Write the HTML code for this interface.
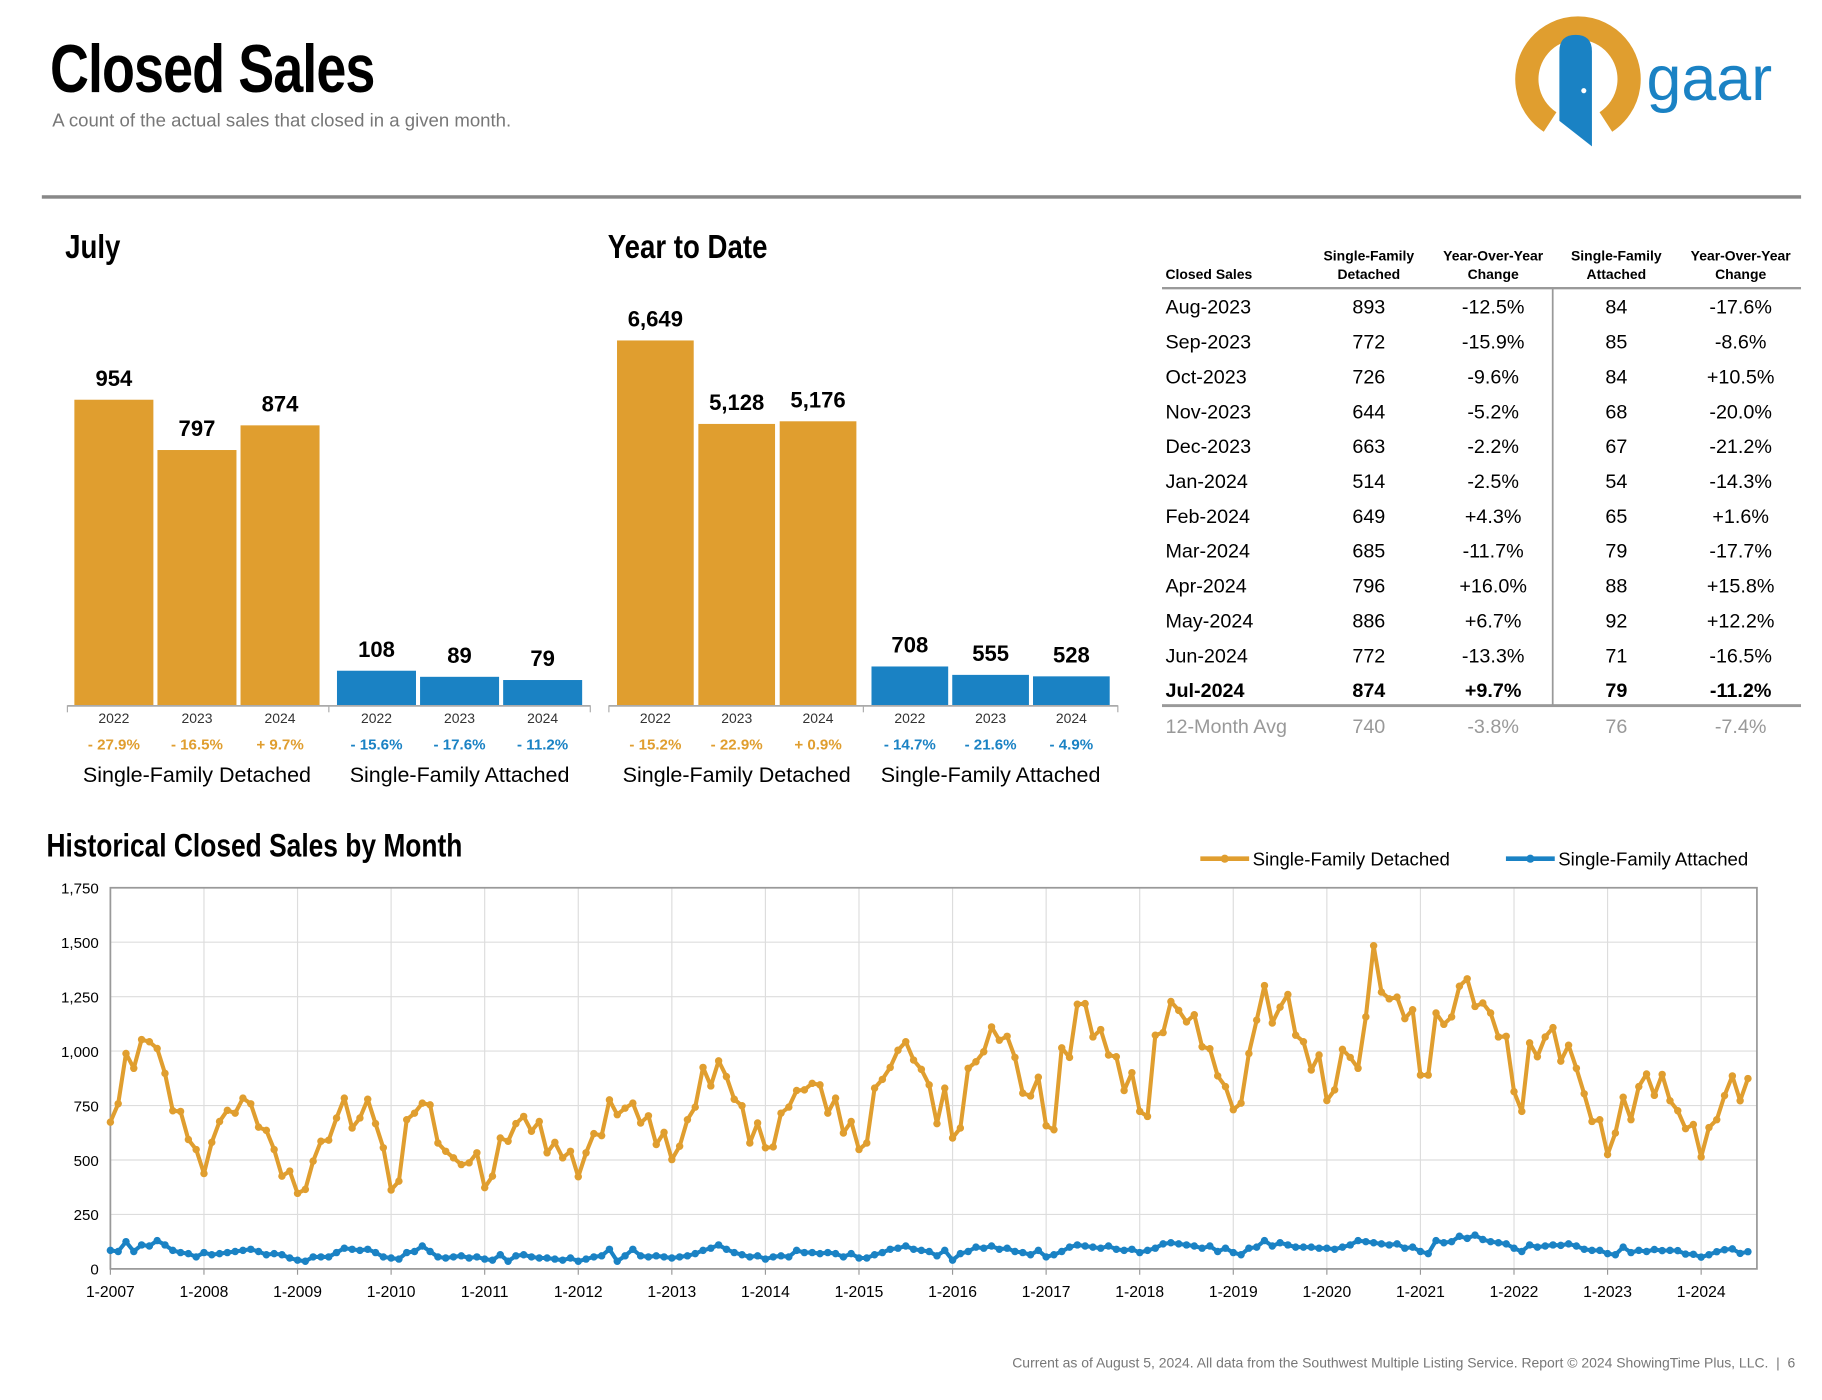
<!DOCTYPE html>
<html><head><meta charset="utf-8"><style>
html,body{margin:0;padding:0;background:#fff;overflow:hidden}
#wrap{position:absolute;left:0;top:0;width:1568px;height:1205px;transform:scale(1.16199);transform-origin:0 0;font-family:"Liberation Sans",sans-serif;color:#000}
.abs{position:absolute}
.cond{font-family:"Liberation Sans Narrow","Liberation Sans",sans-serif;font-weight:bold;transform-origin:0 0;white-space:nowrap}
</style></head><body>
<div id="wrap">
<div class="abs cond" style="left:43px;top:26px;font-size:58px;letter-spacing:-1px;transform:scaleX(0.8)">Closed Sales</div>
<div class="abs" style="left:45px;top:96px;font-size:16px;color:#777">A count of the actual sales that closed in a given month.</div>
<svg class="abs" style="left:1300px;top:10px" width="260" height="125">
<path d="M34 95 A44 44 0 1 1 82 95" fill="none" stroke="#E09E2F" stroke-width="20"/>
<path d="M42 34 Q42 20 56 20 Q70 20 70 34 L70 116 L42 94 Z" fill="#1A82C4"/>
<circle cx="63" cy="68" r="2.2" fill="#fff"/>
<text x="117" y="76" font-size="54" fill="#1A82C4" font-family="Liberation Sans, sans-serif">gaar</text>
</svg>
<div class="abs" style="left:36px;top:168px;width:1514px;height:3px;background:#888"></div>

<div class="abs cond" style="left:56px;top:197px;font-size:29px;transform:scaleX(0.82)">July</div>
<div class="abs cond" style="left:523px;top:197px;font-size:29px;transform:scaleX(0.82)">Year to Date</div>
<svg id="bars" class="abs" style="left:0;top:0" width="980" height="700"></svg>

<div class="abs" style="left:1000px;top:200px;width:550px;height:450px">
<svg width="550" height="450" id="tbl"></svg>
</div>

<div class="abs cond" style="left:40px;top:712px;font-size:28px;transform:scaleX(0.81)">Historical Closed Sales by Month</div>
<svg id="chart" class="abs" style="left:0;top:720px" width="1568" height="420"></svg>

<div class="abs" style="right:23px;top:1166px;font-size:12px;color:#777">Current as of August 5, 2024. All data from the Southwest Multiple Listing Service. Report © 2024 ShowingTime Plus, LLC. &nbsp;|&nbsp; 6</div>
</div>
<script>
const NS='http://www.w3.org/2000/svg';
function mk(p,t,a){const e=document.createElementNS(NS,t);for(const k in a)e.setAttribute(k,a[k]);p.appendChild(e);return e;}
const ORANGE='#E09E2F',BLUE='#1A82C4';
// ---- bar data
const julyYears=['2022','2023','2024'];
const julyDetached=[954,797,874];
const julyAttached=[108,89,79];
const julyDetChg=['- 27.9%','- 16.5%','+ 9.7%'];
const julyAttChg=['- 15.6%','- 17.6%','- 11.2%'];
const ytdDetached=[6649,5128,5176];
const ytdAttached=[708,555,528];
const ytdDetChg=['- 15.2%','- 22.9%','+ 0.9%'];
const ytdAttChg=['- 14.7%','- 21.6%','- 4.9%'];
const bs=document.getElementById('bars');
function group(x0,vals,scale,color,chg,label,name,step,w){
  const base=607;
  vals.forEach((v,i)=>{
    const x=x0+i*step,h=v*scale;
    const r=mk(bs,'rect',{x:x,y:base-h,width:w,height:h,fill:color});
    
    
    const t=mk(bs,'text',{x:x+w/2,y:base-h-12,'text-anchor':'middle','font-size':19,'font-weight':'bold','font-family':'Liberation Sans, sans-serif'});
    t.textContent=v.toLocaleString('en-US');
    
    
    const y=mk(bs,'text',{x:x+w/2,y:622,'text-anchor':'middle','font-size':12,fill:'#333','font-family':'Liberation Sans, sans-serif'});
    y.textContent=julyYears[i];
    
    
    const c=mk(bs,'text',{x:x+w/2,y:645,'text-anchor':'middle','font-size':13,'font-weight':'bold',fill:color,'font-family':'Liberation Sans, sans-serif'});
    c.textContent=chg[i];
    
    
  });
  const g=mk(bs,'text',{x:x0+step+w/2,y:673,'text-anchor':'middle','font-size':18.5,'font-family':'Liberation Sans, sans-serif'});
  g.textContent=label;
  
  
}
group(64,julyDetached,263/954,ORANGE,julyDetChg,'Single-Family Detached','july-detached',71.5,68);
group(290,julyAttached,263/954,BLUE,julyAttChg,'Single-Family Attached','july-attached',71.5,68);
group(531,ytdDetached,314/6649,ORANGE,ytdDetChg,'Single-Family Detached','ytd-detached',70,66);
group(750,ytdAttached,314/6649,BLUE,ytdAttChg,'Single-Family Attached','ytd-attached',69.5,66);
[[58,508],[524,962]].forEach(a=>{
  mk(bs,'line',{x1:a[0],x2:a[1],y1:607.5,y2:607.5,stroke:'#aaa','stroke-width':1.5});
  mk(bs,'line',{x1:a[0],x2:a[0],y1:607,y2:613,stroke:'#aaa'});
  mk(bs,'line',{x1:a[1],x2:a[1],y1:607,y2:613,stroke:'#aaa'});
  const m=(a[0]+a[1])/2; mk(bs,'line',{x1:m,x2:m,y1:607,y2:613,stroke:'#aaa'});
});
// ---- table
const rowMonths=['Aug-2023','Sep-2023','Oct-2023','Nov-2023','Dec-2023','Jan-2024','Feb-2024','Mar-2024','Apr-2024','May-2024','Jun-2024','Jul-2024'];
const rowDet=[893,772,726,644,663,514,649,685,796,886,772,874];
const rowDetChg=['-12.5%','-15.9%','-9.6%','-5.2%','-2.2%','-2.5%','+4.3%','-11.7%','+16.0%','+6.7%','-13.3%','+9.7%'];
const rowAtt=[84,85,84,68,67,54,65,79,88,92,71,79];
const rowAttChg=['-17.6%','-8.6%','+10.5%','-20.0%','-21.2%','-14.3%','+1.6%','-17.7%','+15.8%','+12.2%','-16.5%','-11.2%'];
const tb=document.getElementById('tbl');
function tt(x,y,s,o){const e=mk(tb,'text',Object.assign({x:x,y:y,'font-family':'Liberation Sans, sans-serif'},o));e.textContent=s;return e;}
const hd={'font-size':12,'font-weight':'bold','text-anchor':'middle'};
tt(3,40,'Closed Sales',{'font-size':12,'font-weight':'bold'});
tt(178,24,'Single-Family',hd);tt(178,40,'Detached',hd);
tt(285,24,'Year-Over-Year',hd);tt(285,40,'Change',hd);
tt(391,24,'Single-Family',hd);tt(391,40,'Attached',hd);
tt(498,24,'Year-Over-Year',hd);tt(498,40,'Change',hd);
mk(tb,'rect',{x:0,y:47,width:550,height:2,fill:'#999'});
mk(tb,'rect',{x:335.5,y:48,width:1.5,height:359,fill:'#999'});
mk(tb,'rect',{x:0,y:406,width:550,height:2.5,fill:'#999'});
rowMonths.forEach((m,i)=>{
  const y=70+i*30,b=i==11?{'font-weight':'bold'}:{};
  const r=mk(tb,'g',{});
  
  
  tt(3,y,m,Object.assign({'font-size':17},b));
  tt(178,y,String(rowDet[i]),Object.assign({'font-size':17,'text-anchor':'middle'},b));
  tt(285,y,rowDetChg[i],Object.assign({'font-size':17,'text-anchor':'middle'},b));
  tt(391,y,String(rowAtt[i]),Object.assign({'font-size':17,'text-anchor':'middle'},b));
  tt(498,y,rowAttChg[i],Object.assign({'font-size':17,'text-anchor':'middle'},b));
});
const g={'font-size':17,fill:'#999','text-anchor':'middle'};
tt(3,431,'12-Month Avg',{'font-size':17,fill:'#999'});
tt(178,431,'740',g);tt(285,431,'-3.8%',g);tt(391,431,'76',g);tt(498,431,'-7.4%',g);

// ---- historical chart
const yTicks=[0,250,500,750,1000,1250,1500,1750];
const yTickLabels=['0','250','500','750','1,000','1,250','1,500','1,750'];
const xTickLabels=['1-2007','1-2008','1-2009','1-2010','1-2011','1-2012','1-2013','1-2014','1-2015','1-2016','1-2017','1-2018','1-2019','1-2020','1-2021','1-2022','1-2023','1-2024'];
const detached=[
674,758,989,921,1053,1043,1012,898,726,723,594,548,
438,581,677,728,715,784,758,651,636,548,426,449,
347,365,495,586,591,693,784,647,693,779,667,556,
362,403,685,715,761,753,578,540,510,479,487,533,
373,426,601,586,667,700,632,677,533,581,510,540,
423,533,621,612,776,708,738,761,670,703,571,627,
502,563,685,743,925,840,955,883,779,749,578,670,
556,560,715,743,819,822,852,845,715,784,624,677,
548,578,830,870,925,1004,1043,959,916,845,667,830,
601,647,921,951,997,1111,1050,1068,971,807,794,880,
657,639,1015,971,1215,1218,1065,1099,982,974,819,901,
723,700,1073,1085,1228,1187,1134,1167,1020,1011,886,837,
731,761,989,1142,1301,1129,1202,1260,1073,1043,913,982,
773,822,1008,971,921,1157,1484,1271,1240,1248,1149,1190,
890,890,1175,1123,1157,1298,1332,1205,1221,1175,1065,1068,
814,723,1038,974,1065,1108,954,1027,921,804,677,685,
525,624,788,685,837,895,797,893,772,726,644,663,
514,649,685,796,886,772,874];
const attached=[
85,80,125,80,110,105,130,110,85,75,70,55,
75,65,70,75,80,85,90,80,65,70,65,50,
40,35,55,55,55,75,95,90,85,90,75,55,
50,45,75,80,105,80,55,50,55,60,50,55,
45,40,65,35,60,65,55,50,50,45,40,50,
35,45,55,60,90,35,60,90,60,55,60,55,
50,55,60,70,85,95,110,90,75,65,55,60,
45,55,60,55,85,75,75,70,75,70,55,70,
50,50,65,75,90,95,105,90,85,80,60,85,
40,70,80,100,95,105,90,95,80,75,65,85,
55,65,80,100,110,105,100,95,105,90,85,90,
75,85,95,115,120,115,110,105,95,105,80,95,
75,65,95,100,130,105,120,110,100,100,100,95,
95,90,100,110,130,125,120,115,110,115,95,100,
80,70,130,120,125,150,140,155,135,125,120,115,
95,80,110,100,105,110,108,115,105,90,85,85,
70,65,100,75,85,80,89,84,85,84,68,67,
54,65,79,88,92,71,79];
const ch=document.getElementById('chart');
const X0=95,X1=1512,YT=44,YB=372,YMAX=1750,PXM=(1464-95)/204;
const xs=i=>X0+i*PXM, ys=v=>YB-(v/YMAX)*(YB-YT);
yTicks.forEach((v,i)=>{
  if(v>0&&v<YMAX) mk(ch,'line',{x1:X0,x2:X1,y1:ys(v),y2:ys(v),stroke:'#ddd','stroke-width':1});
  const t=mk(ch,'text',{x:85,y:ys(v)+5,'text-anchor':'end','font-size':13,'font-family':'Liberation Sans, sans-serif'});
  t.textContent=yTickLabels[i];
  
  
});
xTickLabels.forEach((s,i)=>{
  const x=xs(i*12);
  if(i>0) mk(ch,'line',{x1:x,x2:x,y1:YT,y2:YB,stroke:'#ddd','stroke-width':1});
  mk(ch,'line',{x1:x,x2:x,y1:YB,y2:YB+5,stroke:'#999'});
  const t=mk(ch,'text',{x:x,y:YB+24,'text-anchor':'middle','font-size':13.5,'font-family':'Liberation Sans, sans-serif'});
  t.textContent=s;
  
  
});
mk(ch,'rect',{x:X0,y:YT,width:X1-X0,height:YB-YT,fill:'none',stroke:'#999','stroke-width':1.5});
function series(data,color,name){
  const p=mk(ch,'polyline',{points:data.map((v,i)=>xs(i)+','+ys(v)).join(' '),fill:'none',stroke:color,'stroke-width':3.5,'stroke-linejoin':'round'});
  
  
  data.forEach((v,i)=>{
    const c=mk(ch,'circle',{cx:xs(i),cy:ys(v),r:3.2,fill:color});
    
    
  });
}
series(detached,ORANGE,'detached');
series(attached,BLUE,'attached');
function legend(x,color,label,name){
  mk(ch,'line',{x1:x,x2:x+42,y1:19,y2:19,stroke:color,'stroke-width':4});
  mk(ch,'circle',{cx:x+21,cy:19,r:3.5,fill:color});
  const t=mk(ch,'text',{x:x+45,y:25,'font-size':16,'font-family':'Liberation Sans, sans-serif'});
  t.textContent=label;
  
  
}
legend(1033,ORANGE,'Single-Family Detached','legend-detached');
legend(1296,BLUE,'Single-Family Attached','legend-attached');
</script>
</body></html>
